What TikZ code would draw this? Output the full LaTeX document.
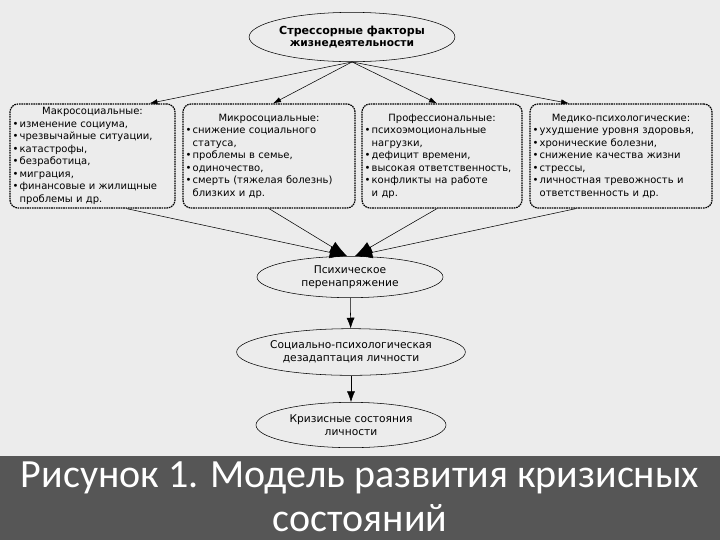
\documentclass[tikz,border=0pt]{standalone}
\usepackage{fontspec}
\setmainfont{DejaVu Sans}
\newfontfamily\capfont{Carlito}
\usetikzlibrary{arrows.meta,calc,positioning,shapes.geometric}
\definecolor{paper}{RGB}{236,236,236}
\definecolor{capgray}{RGB}{86,86,86}
\newcommand\punkt[1]{\par\noindent\hangindent=0.7em\hangafter=1\makebox[0.7em][l]{\textbullet}#1\par}

\begin{document}
\begin{tikzpicture}[x=0.75pt,y=-0.75pt,>=Latex,font=\fontsize{8}{9.4}\selectfont,every node/.style={align=center},
    oval/.style={draw,ellipse,fill=paper,inner sep=0pt,minimum width=#1*0.75pt},
    factor/.style={draw,line width=0.9pt,dash pattern=on 1.2pt off 0.6pt,rounded corners=6pt,fill=paper,
      align=left,inner sep=2pt,text width=#1*0.75pt-4pt,minimum height=78pt,font=\fontsize{7.5}{9.4}\selectfont}]
    \fill[paper] (0,0) rectangle (720,540);
    \useasboundingbox (0,0) rectangle (720,540);
    % top level
    \node[oval=186,minimum height=37pt,font=\bfseries\fontsize{8}{9.6}\selectfont] (stress) at (352,37) {{\fontsize{8.3}{9.6}\selectfont Стрессорные факторы}\\жизнедеятельности};
    % groups of factors
    \node[factor=165] (macro) at (92.5,156) {\makebox[\linewidth]{Макросоциальные:}
      \punkt{изменение социума,}
      \punkt{чрезвычайные ситуации,}
      \punkt{катастрофы,}
      \punkt{безработица,}
      \punkt{миграция,}
      \punkt{финансовые и жилищные проблемы и др.}};
    \node[factor=172] (micro) at (269,156) {\makebox[\linewidth]{Микросоциальные:}
      \punkt{снижение социального статуса,}
      \punkt{проблемы в семье,}
      \punkt{одиночество,}
      \punkt{смерть (тяжелая болезнь) близких и др.}};
    \node[factor=160] (prof) at (442,156) {\makebox[\linewidth]{Профессиональные:}
      \punkt{психоэмоциональные нагрузки,}
      \punkt{дефицит времени,}
      \punkt{высокая ответственность,}
      \punkt{конфликты на работе\newline и др.}};
    \node[factor=182] (med) at (621,156) {\makebox[\linewidth]{Медико-психологические:}
      \punkt{ухудшение уровня здоровья,}
      \punkt{хронические болезни,}
      \punkt{снижение качества жизни}
      \punkt{стрессы,}
      \punkt{личностная тревожность и ответственность и др.}};
    % chain of states
    \node[oval=186,minimum height=31pt] (strain) at (350,277) {Психическое\\перенапряжение};
    \node[oval=192,minimum height=35pt] (disad) at (351,352) {Социально-психологическая\\дезадаптация личности};
    \node[oval=190,minimum height=34pt] (crisis) at (351,425) {Кризисные состояния\\личности};
    % caption
    \fill[capgray] (0,456) rectangle (720,540);
    \node[text=white,inner sep=0pt,font=\capfont\fontsize{30}{33}\selectfont] (caption) at (360,497) {Рисунок 1. Модель развития кризисных\\состояний};
    % connectors
    \draw[->,>={Latex[length=6pt,width=4pt]}] (stress.south) -- ($(macro.north)+(57,0)$);
    \draw[->,>={Latex[length=6pt,width=4pt]}] (stress.south) -- ($(micro.north)+(4,0)$);
    \draw[->,>={Latex[length=6pt,width=4pt]}] (stress.south) -- ($(prof.north)+(-5,0)$);
    \draw[->,>={Latex[length=6pt,width=4pt]}] (stress.south) -- ($(med.north)+(-52,0)$);
    \draw[->,>={Latex[length=13pt,width=9pt]}] ($(macro.south)+(34,0)$) -- ($(strain.north)+(-3,0)$);
    \draw[->,>={Latex[length=13pt,width=9pt]}] (micro.south) -- ($(strain.north)+(-3,0)$);
    \draw[->,>={Latex[length=13pt,width=9pt]}] ($(prof.south)+(-5,0)$) -- ($(strain.north)+(5,0)$);
    \draw[->,>={Latex[length=13pt,width=9pt]}] ($(med.south)+(-45,0)$) -- ($(strain.north)+(5,0)$);
    \draw[->,>={Latex[length=8pt,width=6pt]}] (strain) -- (disad);
    \draw[->,>={Latex[length=8pt,width=6pt]}] (disad) -- (crisis);
  \end{tikzpicture}
\end{document}
